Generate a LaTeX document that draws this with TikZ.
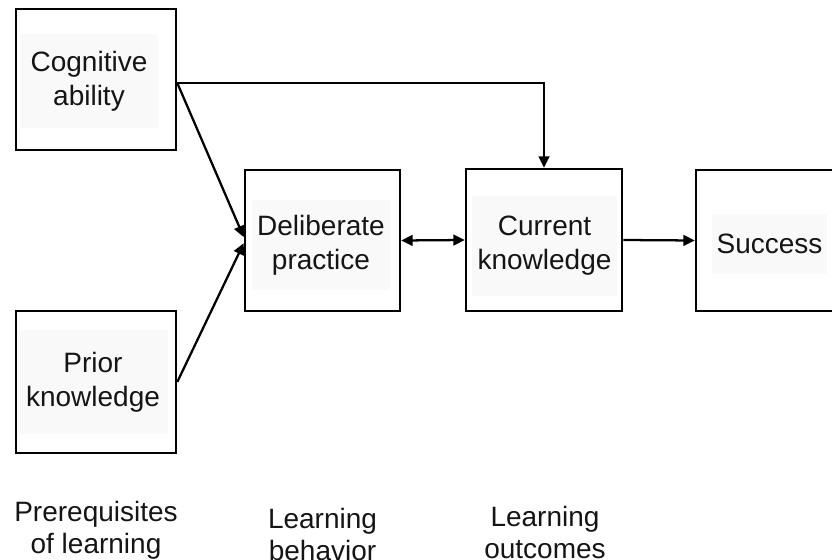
\documentclass[tikz,border=0pt]{standalone}
\usepackage{fontspec}
\setmainfont{Liberation Sans}
\usetikzlibrary{arrows.meta,calc}
\definecolor{bgc}{HTML}{F9F9F9}
\definecolor{ink}{HTML}{151515}
\begin{document}
\begin{tikzpicture}[x=0.75pt,y=-0.75pt,
  box/.style={draw=black,line width=1.9pt,rectangle,inner sep=0pt},
  txt/.style={fill=bgc,inner sep=0pt,align=center,text=ink,
    font=\fontsize{21}{25.5}\selectfont},
  lbl/.style={inner sep=0pt,align=center,text=ink,
    font=\fontsize{21}{24}\selectfont},
  con/.style={draw=black,line width=1.7pt},
  tip/.style={-{Triangle[length=8.5pt,width=8pt]}}]
\useasboundingbox (0,0) rectangle (832,560);
\clip (0,0) rectangle (832,560);

% boxes
\node[box,minimum width=120pt,minimum height=105.75pt] (cog) at (96,79.5) {};
\node[box,minimum width=120pt,minimum height=106.5pt] (pri) at (96,382) {};
\node[box,minimum width=116.25pt,minimum height=105.75pt] (del) at (322.5,240.5) {};
\node[box,minimum width=117pt,minimum height=106.5pt] (cur) at (544,240) {};
\node[box,minimum width=116.25pt,minimum height=105.75pt] (suc) at (773.5,240.5) {};

% texts
\node[txt,minimum width=103.5pt,minimum height=71pt] (tcog) at (89,81) {Cognitive\\ability};
\node[txt,minimum width=112pt,minimum height=78pt] (tpri) at (93,382) {Prior\\knowledge};
\node[txt,minimum width=103.5pt,minimum height=67pt] (tdel) at (321,245) {Deliberate\\practice};
\node[txt,minimum width=109pt,minimum height=75pt] (tcur) at (544.5,246) {Current\\knowledge};
\node[txt,minimum width=86pt,minimum height=45pt] (tsuc) at (769.5,244) {Success};

% bottom labels
\node[lbl] (l1) at (96,530) {Prerequisites\\of learning};
\node[lbl] (l2) at (322.5,534) {Learning\\behavior};
\node[lbl] (l3) at (545,532) {Learning\\outcomes};

% connectors
\coordinate (cogout) at ([yshift=-2.6pt]cog.east);
\draw[con,tip] (cogout) -| (cur.north);
\draw[con,tip] (cogout) -- ([yshift=2.5pt]del.west);
\draw[con,tip] (pri.east) -- ([yshift=-2pt]del.west);
\draw[con,{Triangle[length=8.5pt,width=8pt]}-{Triangle[length=8.5pt,width=8pt]}] (del.east) -- (cur.west);
\draw[con,tip] (cur.east) -- (suc.west);
\end{tikzpicture}
\end{document}
